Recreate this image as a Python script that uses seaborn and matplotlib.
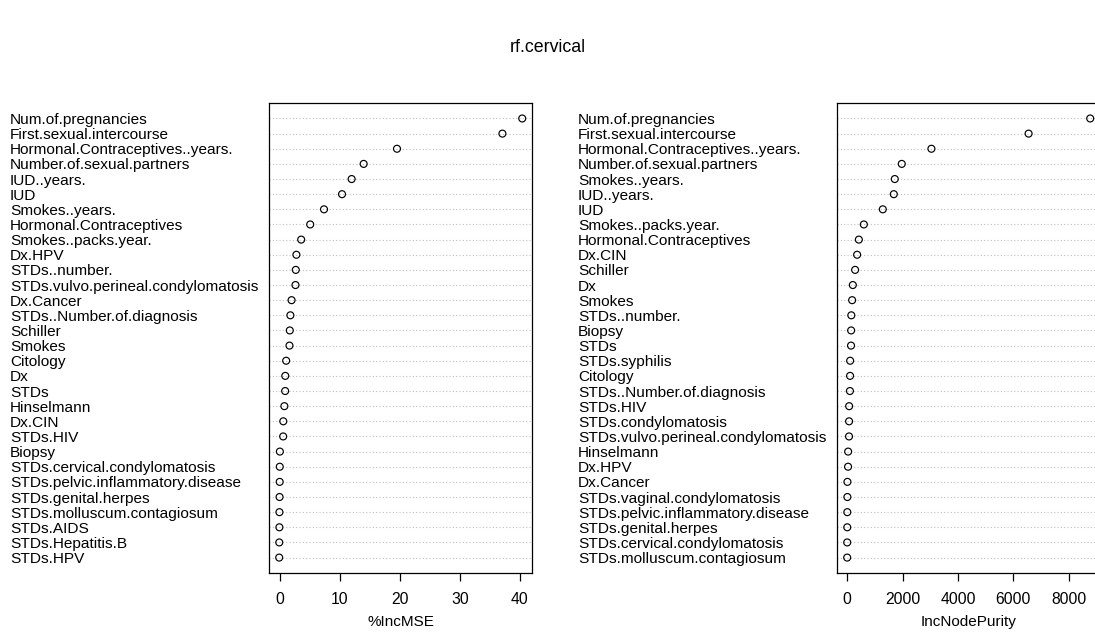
import numpy as np
import matplotlib
matplotlib.use("Agg")
import matplotlib.pyplot as plt
import seaborn as sns

mse_labels = [
    "Num.of.pregnancies", "First.sexual.intercourse", "Hormonal.Contraceptives..years.",
    "Number.of.sexual.partners", "IUD..years.", "IUD", "Smokes..years.",
    "Hormonal.Contraceptives", "Smokes..packs.year.", "Dx.HPV", "STDs..number.",
    "STDs.vulvo.perineal.condylomatosis", "Dx.Cancer", "STDs..Number.of.diagnosis",
    "Schiller", "Smokes", "Citology", "Dx", "STDs", "Hinselmann", "Dx.CIN", "STDs.HIV",
    "Biopsy", "STDs.cervical.condylomatosis", "STDs.pelvic.inflammatory.disease",
    "STDs.genital.herpes", "STDs.molluscum.contagiosum", "STDs.AIDS", "STDs.Hepatitis.B",
    "STDs.HPV",
]
mse_values = [40.4, 37.1, 19.55, 14.0, 12.0, 10.4, 7.4, 5.1, 3.6, 2.8, 2.7, 2.65, 2.0, 1.8,
              1.7, 1.65, 1.1, 0.95, 0.93, 0.8, 0.62, 0.6, 0.05, 0.03, 0.02, 0.0, -0.02,
              -0.03, -0.05, -0.06]

purity_labels = [
    "Num.of.pregnancies", "First.sexual.intercourse", "Hormonal.Contraceptives..years.",
    "Number.of.sexual.partners", "Smokes..years.", "IUD..years.", "IUD",
    "Smokes..packs.year.", "Hormonal.Contraceptives", "Dx.CIN", "Schiller", "Dx", "Smokes",
    "STDs..number.", "Biopsy", "STDs", "STDs.syphilis", "Citology",
    "STDs..Number.of.diagnosis", "STDs.HIV", "STDs.condylomatosis",
    "STDs.vulvo.perineal.condylomatosis", "Hinselmann", "Dx.HPV", "Dx.Cancer",
    "STDs.vaginal.condylomatosis", "STDs.pelvic.inflammatory.disease",
    "STDs.genital.herpes", "STDs.cervical.condylomatosis", "STDs.molluscum.contagiosum",
]
purity_values = [8771, 6548, 3041, 1971, 1719, 1683, 1286, 602, 422, 360, 288, 205, 180,
                 150, 144, 140, 108, 105, 100, 72, 70, 68, 36, 33, 10, 8, 6, 4, 2, 1]

mse_ticks = [0, 10, 20, 30, 40]
purity_ticks = [0, 2000, 4000, 6000, 8000]

sns.set_style("white")
plt.rcParams["font.family"] = ["Liberation Sans", "DejaVu Sans"]
plt.rcParams["text.color"] = "black"

fig = plt.figure(figsize=(10.95, 6.32), dpi=100)
ax1 = fig.add_axes([0.2461, 0.0938, 0.2397, 0.7427])
ax2 = fig.add_axes([0.7648, 0.0938, 0.2397, 0.7427])

panels = [
    (ax1, mse_labels, mse_values, mse_ticks, "%IncMSE"),
    (ax2, purity_labels, purity_values, purity_ticks, "IncNodePurity"),
]

for ax, labels, values, ticks, xlab in panels:
    sns.stripplot(x=values, y=labels, order=labels, jitter=False, ax=ax,
                  marker="o", size=5, color="black", linewidth=0.8,
                  edgecolor="black")
    for coll in ax.collections:
        coll.set_facecolor("none")
        coll.set_edgecolor("black")
        coll.set_linewidth(0.85)

    # R-style 4% padding around the data range
    lo, hi = min(values), max(values)
    span = hi - lo
    ax.set_xlim(lo - 0.04 * span, hi + 0.04 * span)
    ax.set_ylim(len(labels), -1)
    ax.set_xticks(ticks)

    ax.yaxis.grid(True, linestyle=(0, (1, 2)), color="#bebebe", linewidth=0.8)
    ax.xaxis.grid(False)
    ax.set_axisbelow(True)

    ax.tick_params(axis="y", length=0, pad=186.8, labelsize=11.1, labelcolor="black")
    for t in ax.get_yticklabels():
        t.set_horizontalalignment("left")
    ax.tick_params(axis="x", bottom=True, direction="out", length=5.8, width=0.9,
                   color="black", labelsize=11.3, labelcolor="black", pad=8)

    for sp in ax.spines.values():
        sp.set_color("black")
        sp.set_linewidth(0.9)

    ax.set_ylabel("")
    ax.set_xlabel(xlab, fontsize=11, color="black", labelpad=6)

fig.text(0.5, 1 - 47 / 632, "rf.cervical", ha="center", va="center", fontsize=12.8,
         color="black")

fig.savefig("out.png", dpi=100)
